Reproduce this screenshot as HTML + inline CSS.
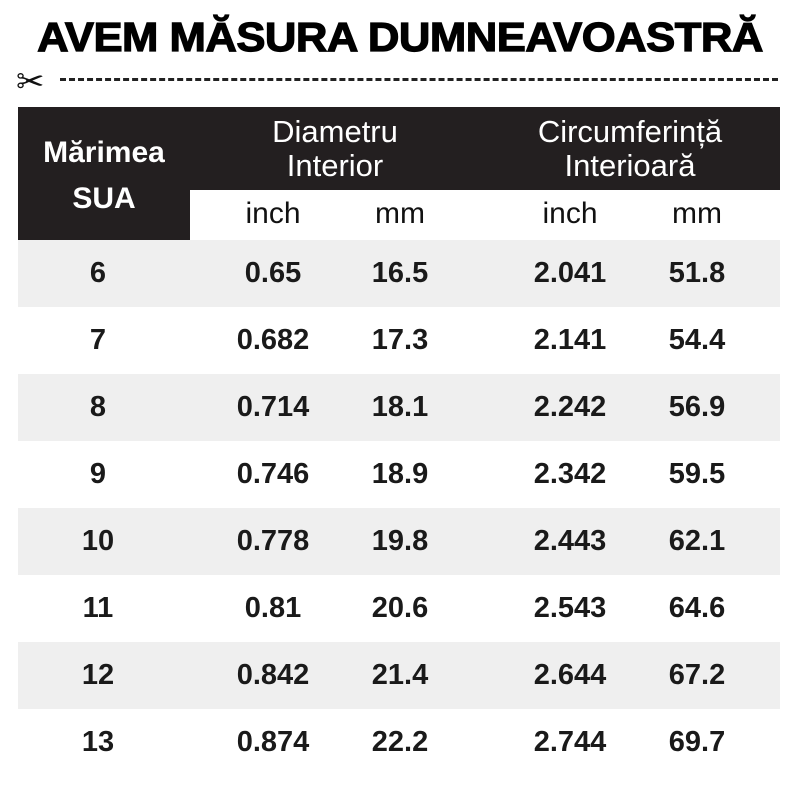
<!DOCTYPE html>
<html><head><meta charset="utf-8"><style>
body{margin:0;width:800px;height:800px;background:#fff;position:relative;overflow:hidden;font-family:"Liberation Sans",sans-serif;color:#111}
.t{position:absolute;left:0;width:800px;top:14px;text-align:center;font-weight:900;font-size:41px;letter-spacing:-0.5px;transform:scaleX(1.065);-webkit-text-stroke:1.2px #000;color:#000}
.dash{position:absolute;left:60px;right:22px;top:78px;border-top:3px dashed #222}
.hd{position:absolute;left:18px;top:107px;width:762px;height:83px;background:#231f20}
.sua{position:absolute;left:18px;top:190px;width:172px;height:50px;background:#231f20}
.w{position:absolute;color:#fff;text-align:center;font-size:31px;line-height:34px}
.s{position:absolute;text-align:center;font-size:30px;top:197px}
.row{position:absolute;left:18px;width:762px;height:67px}
.c{position:absolute;top:0;height:67px;line-height:67px;font-size:29px;text-align:center;width:160px;font-weight:bold;color:#1a1a1a}
</style></head><body>
<div class="t">AVEM MĂSURA DUMNEAVOASTRĂ</div>
<div style="position:absolute;left:16px;top:62px;font-size:34px">✂</div>
<div class="dash"></div>
<div class="hd"></div><div class="sua"></div>
<div class="w" style="left:18px;width:172px;top:130px;font-weight:bold;font-size:30px;line-height:46px">Mărimea<br>SUA</div>
<div class="w" style="left:230px;width:210px;top:115px">Diametru<br>Interior</div>
<div class="w" style="left:510px;width:240px;top:115px">Circumferință<br>Interioară</div>
<div class="s" style="left:193px;width:160px">inch</div>
<div class="s" style="left:320px;width:160px">mm</div>
<div class="s" style="left:490px;width:160px">inch</div>
<div class="s" style="left:617px;width:160px">mm</div>
<div id="rows"></div>
<script>
var d=[["6","0.65","16.5","2.041","51.8"],["7","0.682","17.3","2.141","54.4"],["8","0.714","18.1","2.242","56.9"],["9","0.746","18.9","2.342","59.5"],["10","0.778","19.8","2.443","62.1"],["11","0.81","20.6","2.543","64.6"],["12","0.842","21.4","2.644","67.2"],["13","0.874","22.2","2.744","69.7"]];
var xs=[98,273,400,570,697],h="";
d.forEach(function(r,i){h+='<div class="row" style="top:'+(240+i*67)+'px;background:'+(i%2?'#fff':'#efefef')+'">';
r.forEach(function(v,j){h+='<div class="c" style="left:'+(xs[j]-18-80)+'px">'+v+'</div>'});h+='</div>'});
document.getElementById('rows').innerHTML=h;
</script>
</body></html>
